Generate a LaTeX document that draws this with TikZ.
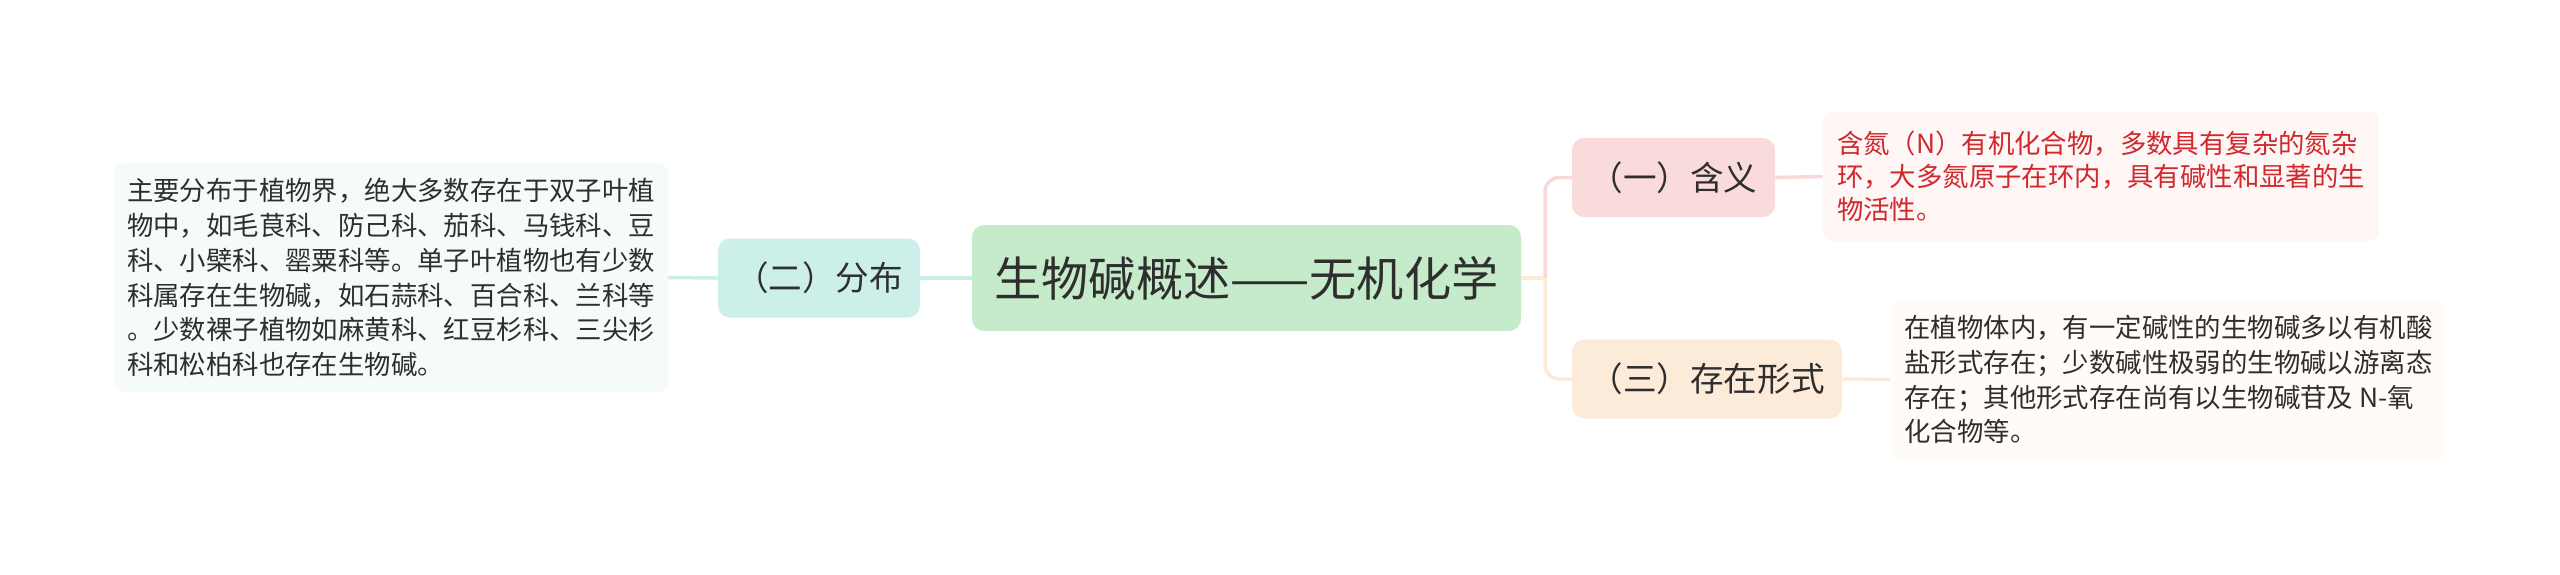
\documentclass[tikz,border=0pt]{standalone}
\usepackage{fontspec}
\setmainfont{Noto Sans CJK SC}
\definecolor{txt}{HTML}{2E2E2E}
\definecolor{rootfill}{HTML}{C6EBCB}
\definecolor{tealfill}{HTML}{CDEFEA}
\definecolor{tealleaf}{HTML}{F4FBFA}
\definecolor{tealline}{HTML}{CBEDE8}
\definecolor{pinkfill}{HTML}{FADBDB}
\definecolor{pinkleaf}{HTML}{FFF6F6}
\definecolor{pinkline}{HTML}{F8D8D8}
\definecolor{redtxt}{HTML}{D0282C}
\definecolor{peachfill}{HTML}{FDEBD9}
\definecolor{peachleaf}{HTML}{FFFBF6}
\definecolor{peachline}{HTML}{FCEAD6}
\tikzset{
  rootbox/.style={rounded corners=6pt, inner sep=0pt, align=center, text=txt, fill=rootfill,
    minimum width=274.5pt, minimum height=53pt, font=\fontsize{23.6}{28}\selectfont},
  branchbox/.style={rounded corners=6pt, inner sep=0pt, align=center, text=txt,
    minimum height=39.5pt, font=\fontsize{16.8}{20}\selectfont},
  leafbox/.style={rounded corners=5pt, inner sep=0pt, align=left, text=txt,
    font=\fontsize{13.2}{17.4}\selectfont},
  conn/.style={line width=1.75pt, rounded corners=7pt}
}
\begin{document}
\begin{tikzpicture}[x=0.5pt,y=-0.5pt]
\useasboundingbox (0,0) rectangle (2560,574);
\node[rootbox] (root) at (1246.5,278) {生物碱概述——无机化学};
\node[branchbox, fill=tealfill, minimum width=101pt] (b2) at (819,278) {（二）分布};
\node[leafbox, fill=tealleaf, minimum width=277pt, minimum height=114.5pt] (l2) at (391,277.5)
  {主要分布于植物界，绝大多数存在于双子叶植\\物中，如毛茛科、防己科、茄科、马钱科、豆\\科、小檗科、罂粟科等。单子叶植物也有少数\\科属存在生物碱，如石蒜科、百合科、兰科等\\。少数裸子植物如麻黄科、红豆杉科、三尖杉\\科和松柏科也存在生物碱。};
\node[branchbox, fill=pinkfill, minimum width=101.5pt] (b1) at (1673.5,177.5) {（一）含义};
\node[leafbox, fill=pinkleaf, text=redtxt, minimum width=278pt, minimum height=64.5pt,
  font=\fontsize{13.2}{16.6}\selectfont] (l1) at (2101,176.5)
  {含氮（N）有机化合物，多数具有复杂的氮杂\\环，大多氮原子在环内，具有碱性和显著的生\\物活性。};
\node[branchbox, fill=peachfill, minimum width=135pt] (b3) at (1707,379) {（三）存在形式};
\node[leafbox, fill=peachleaf, minimum width=277.5pt, minimum height=80.5pt] (l3) at (2168.5,379.5)
  {在植物体内，有一定碱性的生物碱多以有机酸\\盐形式存在；少数碱性极弱的生物碱以游离态\\存在；其他形式存在尚有以生物碱苷及 N-氧\\化合物等。};
\coordinate (j) at (1545,278);
\draw[conn, tealline] (l2.east) -- (b2.west);
\draw[conn, tealline] (b2.east) -- (root.west);
\draw[conn, peachline] (root.east) -- (j);
\draw[conn, pinkline] (j) |- (b1.west);
\draw[conn, peachline] (j) |- (b3.west);
\draw[conn, pinkline] (b1.east) -- (l1.west);
\draw[conn, peachline] (b3.east) -- (l3.west);
\end{tikzpicture}
\end{document}
